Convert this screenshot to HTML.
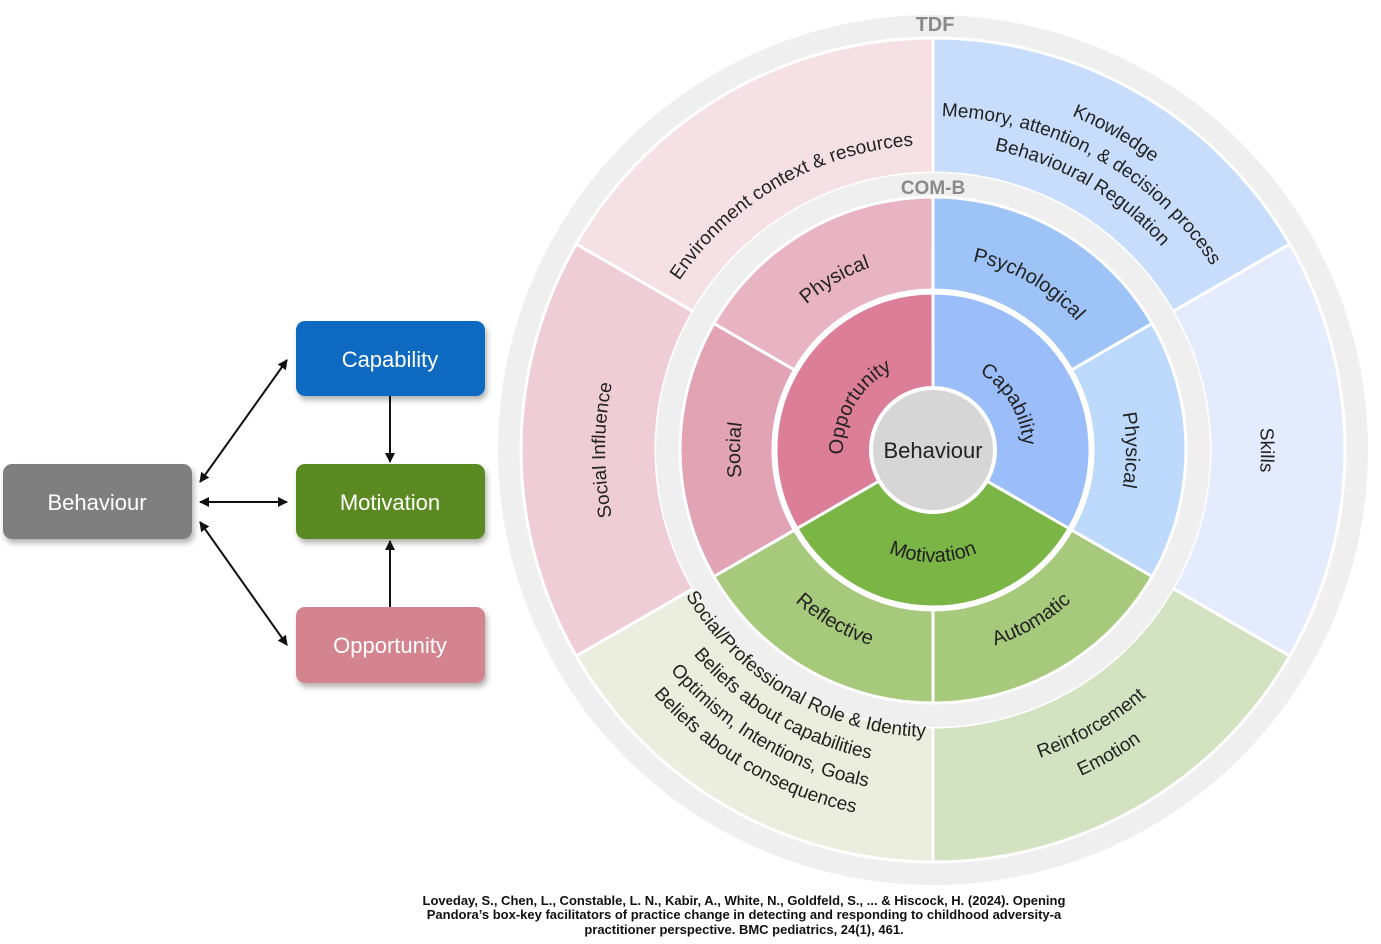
<!DOCTYPE html>
<html><head><meta charset="utf-8"><style>
html,body{margin:0;padding:0;background:#fff;width:1381px;height:944px;overflow:hidden}
svg{display:block}
text{font-family:"Liberation Sans",sans-serif}
</style></head><body>
<svg width="1381" height="944" viewBox="0 0 1381 944">
<defs>
<filter id="sh" x="-10%" y="-10%" width="130%" height="140%"><feDropShadow dx="2" dy="4" stdDeviation="3" flood-color="#000" flood-opacity="0.3"/></filter>
<marker id="ah" markerWidth="10" markerHeight="10" refX="9" refY="5" orient="auto-start-reverse" markerUnits="userSpaceOnUse"><path d="M0,0 L10,5 L0,10 Z" fill="#111"/></marker>
<path id="sT" d="M -206 -356.8 A 412 412 0 0 1 206 -356.8 L 138.5 -239.9 A 277 277 0 0 0 -138.5 -239.9 Z"/>
<path id="sM" d="M -126.5 -219.1 A 253 253 0 0 1 126.5 -219.1 L 80 -138.6 A 160 160 0 0 0 -80 -138.6 Z"/>
<path id="sI" d="M -136 -78.5 A 157 157 0 0 1 136 -78.5 L 0 0 Z"/>
<!-- clockwise arcs (over top) -->
<path id="c90" d="M -90 0 A 90 90 0 0 1 90 0"/>
<path id="c193" d="M -193 0 A 193 193 0 0 1 193 0"/>
<path id="c305" d="M -305 0 A 305 305 0 0 1 305 0"/>
<path id="c306" d="M -306 0 A 306 306 0 0 1 306 0"/>
<path id="c328" d="M -328 0 A 328 328 0 0 1 328 0"/>
<path id="c334" d="M -334 0 A 334 334 0 0 1 334 0"/>
<path id="c362" d="M -362 0 A 362 362 0 0 1 362 0"/>
<!-- counterclockwise arcs (under bottom) -->
<path id="a112" d="M -112 0 A 112 112 0 0 0 112 0"/>
<path id="a205" d="M -205 0 A 205 205 0 0 0 205 0"/>
<path id="a287" d="M -287 0 A 287 287 0 0 0 287 0"/>
<path id="a315" d="M -315 0 A 315 315 0 0 0 315 0"/>
<path id="a326" d="M -326 0 A 326 326 0 0 0 326 0"/>
<path id="a343" d="M -343 0 A 343 343 0 0 0 343 0"/>
<path id="a358" d="M -358 0 A 358 358 0 0 0 358 0"/>
<path id="a371" d="M -371 0 A 371 371 0 0 0 371 0"/>
</defs>

<!-- Flowchart -->
<g filter="url(#sh)">
<rect x="3" y="464" width="189" height="75" rx="9" fill="#7f7f7f"/>
<rect x="296" y="321" width="189" height="75" rx="9" fill="#0a6bc0"/>
<rect x="296" y="464" width="189" height="75" rx="9" fill="#5b8a24"/>
<rect x="296" y="607" width="189" height="76" rx="9" fill="#d3848f"/>
</g>
<g fill="#fff" font-size="22" text-anchor="middle">
<text x="97" y="510">Behaviour</text>
<text x="390" y="367">Capability</text>
<text x="390" y="510">Motivation</text>
<text x="390" y="653">Opportunity</text>
</g>
<g stroke="#111" stroke-width="2" fill="none">
<line x1="200" y1="482" x2="287" y2="360" marker-start="url(#ah)" marker-end="url(#ah)"/>
<line x1="200" y1="502" x2="287" y2="502" marker-start="url(#ah)" marker-end="url(#ah)"/>
<line x1="200" y1="522" x2="287" y2="645" marker-start="url(#ah)" marker-end="url(#ah)"/>
<line x1="390" y1="396" x2="390" y2="462" marker-end="url(#ah)"/>
<line x1="390" y1="607" x2="390" y2="541" marker-end="url(#ah)"/>
</g>

<!-- Wheel -->
<g transform="translate(933,450)">
<circle r="435" fill="#efefef"/>
<g stroke="#fff" stroke-width="3">
<use href="#sT" transform="rotate(330)" fill="#f4e0e5"/>
<use href="#sT" transform="rotate(30)" fill="#c8ddfb"/>
<use href="#sT" transform="rotate(90)" fill="#e4ebfc"/>
<use href="#sT" transform="rotate(150)" fill="#d3e2c1"/>
<use href="#sT" transform="rotate(210)" fill="#ebeedf"/>
<use href="#sT" transform="rotate(270)" fill="#efcdd6"/>
</g>
<circle r="277" fill="#efefef"/>
<g stroke="#fff" stroke-width="3">
<use href="#sM" transform="rotate(330)" fill="#e8b4c2"/>
<use href="#sM" transform="rotate(30)" fill="#9dc3f7"/>
<use href="#sM" transform="rotate(90)" fill="#bdd9fc"/>
<use href="#sM" transform="rotate(150)" fill="#a6c97c"/>
<use href="#sM" transform="rotate(210)" fill="#a6c97c"/>
<use href="#sM" transform="rotate(270)" fill="#e2a4b5"/>
</g>
<g stroke="#fff" stroke-width="3">
<use href="#sI" transform="rotate(300)" fill="#dc7e98"/>
<use href="#sI" transform="rotate(60)" fill="#9bbdf9"/>
<use href="#sI" transform="rotate(180)" fill="#7ab546"/>
</g>
<circle r="62" fill="#d6d6d6" stroke="#fff" stroke-width="4"/>
<text x="0" y="8" font-size="22" text-anchor="middle" fill="#222">Behaviour</text>
<text x="2" y="-419" font-size="20" font-weight="bold" text-anchor="middle" fill="#8a8a8a">TDF</text>
<text x="0" y="-256" font-size="19" font-weight="bold" text-anchor="middle" fill="#8a8a8a">COM-B</text>

<g fill="#222" font-size="19" text-anchor="middle">
<g transform="rotate(330)"><text><textPath href="#c305" startOffset="50%">Environment context &amp; resources</textPath></text></g>
<g transform="rotate(30)"><text><textPath href="#c362" startOffset="50%">Knowledge</textPath></text></g>
<g transform="rotate(29)"><text><textPath href="#c334" startOffset="50%">Memory, attention, &amp; decision process</textPath></text></g>
<g transform="rotate(30)"><text><textPath href="#c306" startOffset="50%">Behavioural Regulation</textPath></text></g>
<g transform="rotate(90)"><text><textPath href="#c328" startOffset="50%">Skills</textPath></text></g>
<g transform="rotate(270)"><text><textPath href="#c328" startOffset="50%">Social Influence</textPath></text></g>
<g transform="rotate(-30)"><text><textPath href="#a326" startOffset="50%">Reinforcement</textPath></text></g>
<g transform="rotate(-30)"><text><textPath href="#a358" startOffset="50%">Emotion</textPath></text></g>
<g transform="rotate(30.5)"><text><textPath href="#a287" startOffset="50%">Social/Professional Role &amp; Identity</textPath></text></g>
<g transform="rotate(30.5)"><text><textPath href="#a315" startOffset="50%">Beliefs about capabilities</textPath></text></g>
<g transform="rotate(30.5)"><text><textPath href="#a343" startOffset="50%">Optimism, Intentions, Goals</textPath></text></g>
<g transform="rotate(30.5)"><text><textPath href="#a371" startOffset="50%">Beliefs about consequences</textPath></text></g>
</g>
<g fill="#222" font-size="20" text-anchor="middle">
<g transform="rotate(330)"><text><textPath href="#c193" startOffset="50%">Physical</textPath></text></g>
<g transform="rotate(30)"><text><textPath href="#c193" startOffset="50%">Psychological</textPath></text></g>
<g transform="rotate(90)"><text><textPath href="#c193" startOffset="50%">Physical</textPath></text></g>
<g transform="rotate(270)"><text><textPath href="#c193" startOffset="50%">Social</textPath></text></g>
<g transform="rotate(30)"><text><textPath href="#a205" startOffset="50%">Reflective</textPath></text></g>
<g transform="rotate(-30)"><text><textPath href="#a205" startOffset="50%">Automatic</textPath></text></g>
<g transform="rotate(300)"><text><textPath href="#c90" startOffset="50%">Opportunity</textPath></text></g>
<g transform="rotate(59)"><text><textPath href="#c90" startOffset="50%">Capability</textPath></text></g>
<g><text><textPath href="#a112" startOffset="50%">Motivation</textPath></text></g>
</g>
</g>

<g font-size="13" font-weight="bold" text-anchor="middle" fill="#111">
<text x="744" y="905">Loveday, S., Chen, L., Constable, L. N., Kabir, A., White, N., Goldfeld, S., ... &amp; Hiscock, H. (2024). Opening</text>
<text x="744" y="919">Pandora’s box-key facilitators of practice change in detecting and responding to childhood adversity-a</text>
<text x="744" y="934">practitioner perspective. BMC pediatrics, 24(1), 461.</text>
</g>
</svg>
</body></html>
